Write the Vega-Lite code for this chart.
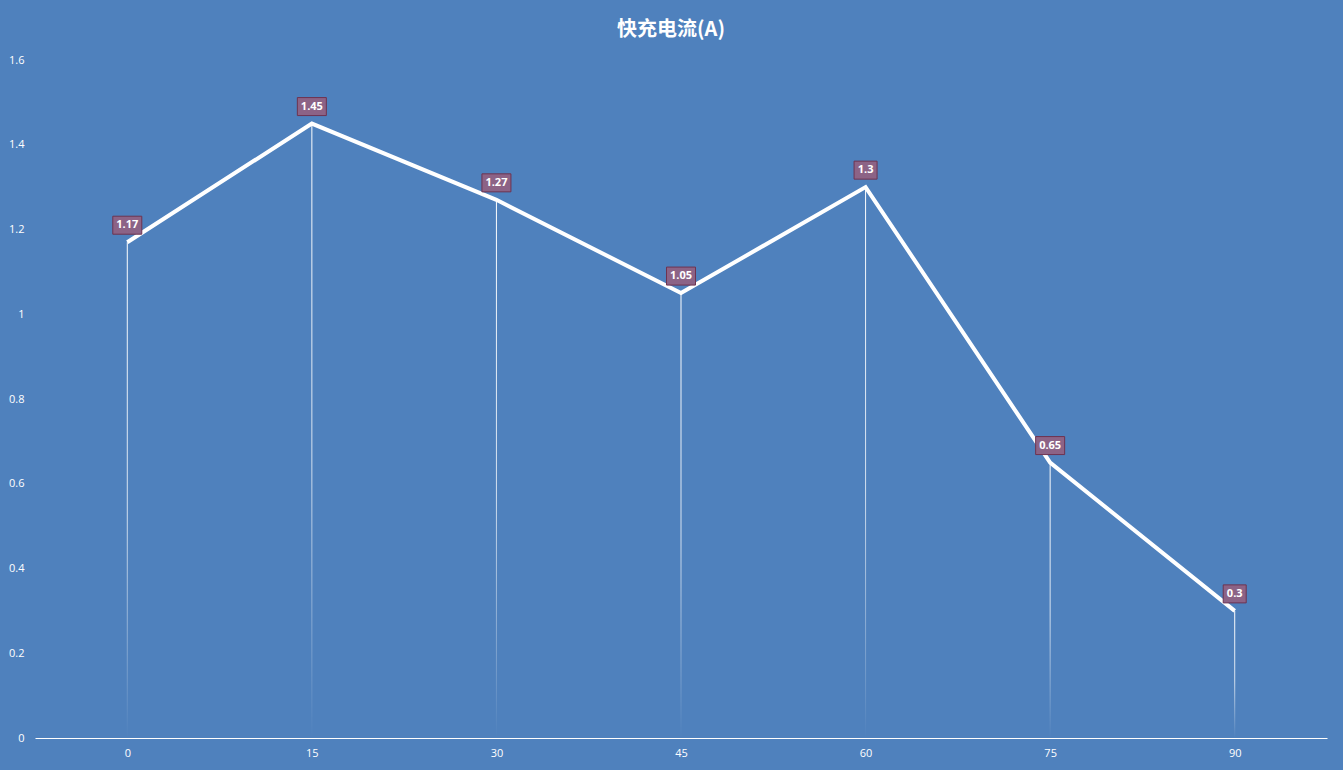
{
  "$schema": "https://vega.github.io/schema/vega-lite/v6.json",
  "description": "快充电流(A)",
  "autosize": {"type": "none"},
  "padding": {"left": 35, "top": 60, "right": 16, "bottom": 32},
  "width": 1292,
  "height": 678,
  "background": "#4F81BD",
  "config": {"view": {"stroke": null}},
  "title": {
    "text": "快充电流(A)",
    "font": "Noto Sans CJK SC",
    "fontSize": 20,
    "fontWeight": "bold",
    "color": "#FFFFFF",
    "anchor": "middle",
    "dx": -10,
    "offset": 14
  },
  "data": {
    "values": [
      {"t": 0, "a": 1.17},
      {"t": 15, "a": 1.45},
      {"t": 30, "a": 1.27},
      {"t": 45, "a": 1.05},
      {"t": 60, "a": 1.3},
      {"t": 75, "a": 0.65},
      {"t": 90, "a": 0.3}
    ]
  },
  "encoding": {
    "x": {
      "field": "t",
      "type": "quantitative",
      "scale": {"domain": [-7.5, 97.5], "nice": false, "zero": false, "padding": 0},
      "axis": {
        "title": null,
        "values": [0, 15, 30, 45, 60, 75, 90],
        "grid": false,
        "ticks": false,
        "domainColor": "#FFFFFF",
        "domainWidth": 1,
        "labelColor": "#FFFFFF",
        "labelFont": "Open Sans",
        "labelFontSize": 11,
        "labelPadding": 9
      }
    },
    "y": {
      "field": "a",
      "type": "quantitative",
      "scale": {"domain": [0, 1.6], "nice": false},
      "axis": {
        "title": null,
        "values": [0, 0.2, 0.4, 0.6, 0.8, 1, 1.2, 1.4, 1.6],
        "format": "~f",
        "grid": false,
        "ticks": false,
        "domain": false,
        "labelColor": "#FFFFFF",
        "labelFont": "Open Sans",
        "labelFontSize": 11,
        "labelPadding": 11
      }
    }
  },
  "layer": [
    {
      "mark": {
        "type": "bar",
        "width": 1,
        "fill": {
          "gradient": "linear",
          "x1": 0, "y1": 0, "x2": 0, "y2": 1,
          "stops": [
            {"offset": 0, "color": "rgba(255,255,255,1)"},
            {"offset": 0.55, "color": "rgba(255,255,255,0.75)"},
            {"offset": 1, "color": "rgba(255,255,255,0)"}
          ]
        }
      }
    },
    {
      "mark": {"type": "line", "color": "#FFFFFF", "strokeWidth": 4, "strokeJoin": "miter"}
    },
    {
      "transform": [{"calculate": "length(toString(datum.a))", "as": "len"}],
      "mark": {
        "type": "point",
        "filled": true,
        "fill": "#8C6386",
        "fillOpacity": 1,
        "stroke": "#6E3350",
        "strokeWidth": 1,
        "size": 100
      },
      "encoding": {
        "shape": {
          "field": "len",
          "type": "nominal",
          "legend": null,
          "scale": {
            "domain": [3, 4],
            "range": [
              "M-2.3,-5.2 L2.3,-5.2 L2.3,-1.6 L-2.3,-1.6 Z",
              "M-2.9,-5.2 L2.9,-5.2 L2.9,-1.6 L-2.9,-1.6 Z"
            ]
          }
        }
      }
    },
    {
      "mark": {
        "type": "text",
        "color": "#FFFFFF",
        "font": "Open Sans",
        "fontSize": 11,
        "fontWeight": "bold",
        "baseline": "middle",
        "dy": -17
      },
      "encoding": {"text": {"field": "a", "type": "quantitative"}}
    }
  ]
}
